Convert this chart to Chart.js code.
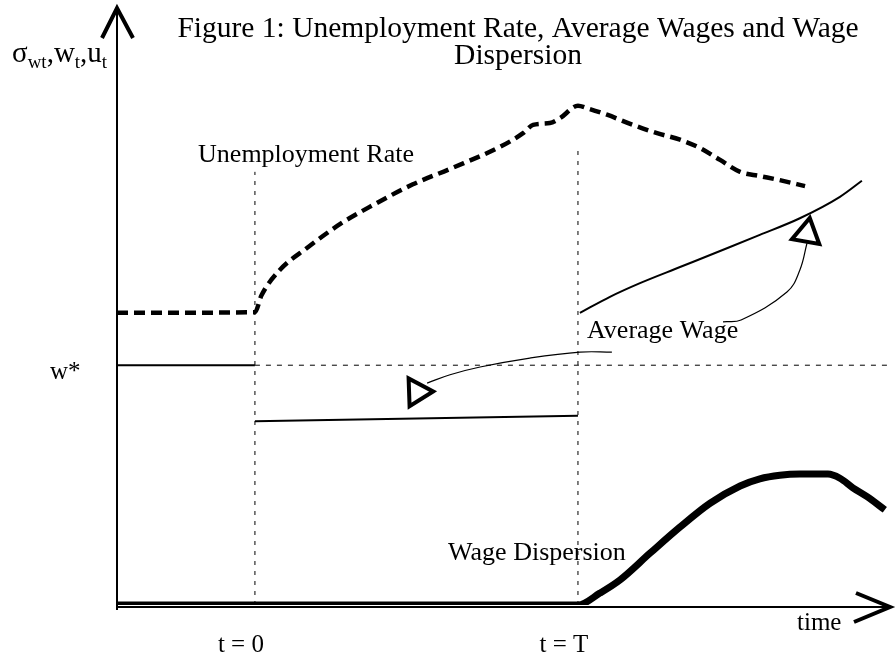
<!DOCTYPE html>
<html>
<head>
<meta charset="utf-8">
<script src="https://cdn.jsdelivr.net/npm/chart.js@4.4.1/dist/chart.umd.min.js"></script>
<style>
  html, body { margin: 0; padding: 0; background: #fff; }
  #fig { display: block; }
</style>
</head>
<body>
<canvas id="fig" width="896" height="660"></canvas>
<script>
// Schematic: time on x (t = 0 -> 0, t = T -> 10), arbitrary level on y (0..100)

const timeTickLabels = ["t = 0", "t = T"];
const timeTickValues = [0, 10];
const wStar = 40.3;

// Unemployment rate (thick dashed)
const unempX = [-4.27, 0, 0.2, 0.77, 1.61, 2.63, 3.65, 4.89, 6.04, 7.59, 8.3, 8.61, 9.13, 9.44, 10,
  10.28, 10.9, 11.7, 12.45, 13.16, 13.78, 14.4, 15.02, 15.63, 16.25, 17.03];
const unempY = [49.1, 49.2, 52.0, 56.3, 60.0, 64.0, 67.2, 70.7, 73.3, 77.0, 79.3, 80.7, 81.0, 81.8, 83.9,
  83.5, 82.4, 80.7, 79.3, 78.2, 76.8, 74.8, 72.8, 72.1, 71.4, 70.4];

// Average wage (thin solid, three pieces)
const wageX = [-4.27, 0, 0, 0, 10, 10, 10.06, 10.99, 11.92, 13.16, 14.4, 15.63, 16.87, 18.11, 18.79];
const wageY = [40.3, 40.3, null, 30.9, 31.8, null, 49.1, 51.8, 54.1, 56.8, 59.5, 62.2, 65.0, 68.6, 71.3];

// Wage dispersion (very thick)
const dispX = [-4.27, 10, 10.68, 11.3, 12.23, 13.16, 14.09, 15.02, 15.63, 16.25, 16.87, 17.74, 18.11, 18.51, 18.95, 19.5];
const dispY = [0, 0, 2.0, 4.2, 8.7, 13.1, 17.1, 20.0, 21.2, 21.8, 22.0, 22.0, 21.3, 19.7, 18.2, 16.0];

// annotation arrows from the "Average Wage" label
const arrowLeftX = [5.33, 6.04, 6.97, 8.51, 10.06, 11.05];
const arrowLeftY = [37.3, 38.7, 40.0, 41.5, 42.5, 42.5];
const arrowRightX = [14.49, 15.05, 16.47, 16.87, 17.09];
const arrowRightY = [47.6, 47.9, 52.6, 56.3, 60.8];
const headX = [5.02, 17.09];
const headY = [35.8, 62.4];
const headAngle = [88, 10];

const zip = (xs, ys) => xs.map((x, i) => ({ x, y: ys[i] }));

const serif = '"Liberation Serif", "DejaVu Serif", serif';

// axes, arrows and all text
const sketchPlugin = {
  id: "sketch",
  afterDraw(chart) {
    const { ctx, chartArea: a, scales } = chart;
    const xs = scales.x, ys = scales.y;
    ctx.save();
    ctx.strokeStyle = "#000";
    ctx.fillStyle = "#000";

    // axis lines
    ctx.lineWidth = 2;
    ctx.beginPath();
    ctx.moveTo(a.left, a.bottom + 5);
    ctx.lineTo(a.left, a.top);
    ctx.moveTo(a.left, a.bottom + 2);
    ctx.lineTo(a.right, a.bottom + 2);
    ctx.stroke();

    // chevron arrow heads
    ctx.lineWidth = 4;
    ctx.lineJoin = "miter";
    ctx.beginPath();
    ctx.moveTo(a.left - 15, a.top + 28);
    ctx.lineTo(a.left, a.top - 2);
    ctx.lineTo(a.left + 16, a.top + 28);
    ctx.stroke();
    ctx.beginPath();
    ctx.moveTo(a.right - 34, a.bottom - 12);
    ctx.lineTo(a.right, a.bottom + 2);
    ctx.lineTo(a.right - 36, a.bottom + 17);
    ctx.stroke();

    // title
    ctx.font = "29.5px " + serif;
    ctx.textAlign = "center";
    ctx.textBaseline = "alphabetic";
    ctx.fillText("Figure 1: Unemployment Rate, Average Wages and Wage", 518, 37);
    ctx.fillText("Dispersion", 518, 64);

    // curve labels (anchored in data units)
    ctx.font = "26px " + serif;
    ctx.textAlign = "left";
    ctx.fillText("Unemployment Rate", xs.getPixelForValue(-1.76), ys.getPixelForValue(74.4));
    ctx.fillText("Average Wage", xs.getPixelForValue(10.28), ys.getPixelForValue(44.8));
    ctx.fillText("Wage Dispersion", xs.getPixelForValue(5.98), ys.getPixelForValue(7.5));

    // time ticks
    ctx.font = "25px " + serif;
    ctx.textAlign = "center";
    timeTickLabels.forEach((lab, i) => {
      ctx.fillText(lab, xs.getPixelForValue(timeTickValues[i]) - 14, 652);
    });
    ctx.textAlign = "left";
    ctx.fillText("time", 797, 630);
    ctx.fillText("w*", 50, ys.getPixelForValue(wStar) + 14);

    // y axis label with subscripts
    let x = 12;
    const base = 62;
    const parts = [["σ", 0], ["wt", 1], [",", 0], ["w", 0], ["t", 1], [",", 0], ["u", 0], ["t", 1]];
    parts.forEach(([s, sub]) => {
      ctx.font = (sub ? "19px " : "29px ") + serif;
      ctx.fillText(s, x, base + (sub ? 6 : 0));
      x += ctx.measureText(s).width;
    });
    ctx.restore();
  },
};

new Chart(document.getElementById("fig"), {
  type: "line",
  data: {
    datasets: [
      {
        label: "t = 0 guide",
        data: zip([0, 0], [0, 72.8]),
        borderColor: "#000",
        borderWidth: 1,
        borderDash: [4, 6],
        pointRadius: 0,
      },
      {
        label: "t = T guide",
        data: zip([10, 10], [0, 77.3]),
        borderColor: "#000",
        borderWidth: 1,
        borderDash: [4, 6],
        pointRadius: 0,
      },
      {
        label: "w*",
        data: zip([0, 19.66], [wStar, wStar]),
        borderColor: "#000",
        borderWidth: 1,
        borderDash: [5, 6],
        pointRadius: 0,
      },
      {
        label: "Unemployment Rate",
        data: zip(unempX, unempY),
        borderColor: "#000",
        borderWidth: 4.5,
        borderDash: [11, 6],
        cubicInterpolationMode: "monotone",
        pointRadius: 0,
      },
      {
        label: "Average Wage",
        data: zip(wageX, wageY),
        borderColor: "#000",
        borderWidth: 2,
        spanGaps: false,
        cubicInterpolationMode: "monotone",
        pointRadius: 0,
      },
      {
        label: "Wage Dispersion",
        data: zip(dispX, dispY),
        borderColor: "#000",
        borderWidth: 7,
        cubicInterpolationMode: "monotone",
        pointRadius: 0,
      },
      {
        label: "arrow left",
        data: zip(arrowLeftX, arrowLeftY),
        borderColor: "#000",
        borderWidth: 1.2,
        tension: 0.4,
        pointRadius: 0,
      },
      {
        label: "arrow right",
        data: zip(arrowRightX, arrowRightY),
        borderColor: "#000",
        borderWidth: 1.2,
        tension: 0.4,
        pointRadius: 0,
      },
      {
        label: "heads",
        data: zip(headX, headY),
        showLine: false,
        pointStyle: "triangle",
        pointRadius: 16,
        pointRotation: headAngle,
        pointBorderWidth: 4,
        pointBorderColor: "#000",
        pointBackgroundColor: "#fff",
      },
    ],
  },
  options: {
    responsive: false,
    animation: false,
    layout: { autoPadding: false, padding: { left: 117, right: 6, top: 10, bottom: 55 } },
    plugins: { legend: { display: false }, tooltip: { enabled: false }, title: { display: false } },
    scales: {
      x: { type: "linear", min: -4.27, max: 19.66, display: false },
      y: { type: "linear", min: 0, max: 100, display: false },
    },
  },
  plugins: [sketchPlugin],
});
</script>
</body>
</html>
